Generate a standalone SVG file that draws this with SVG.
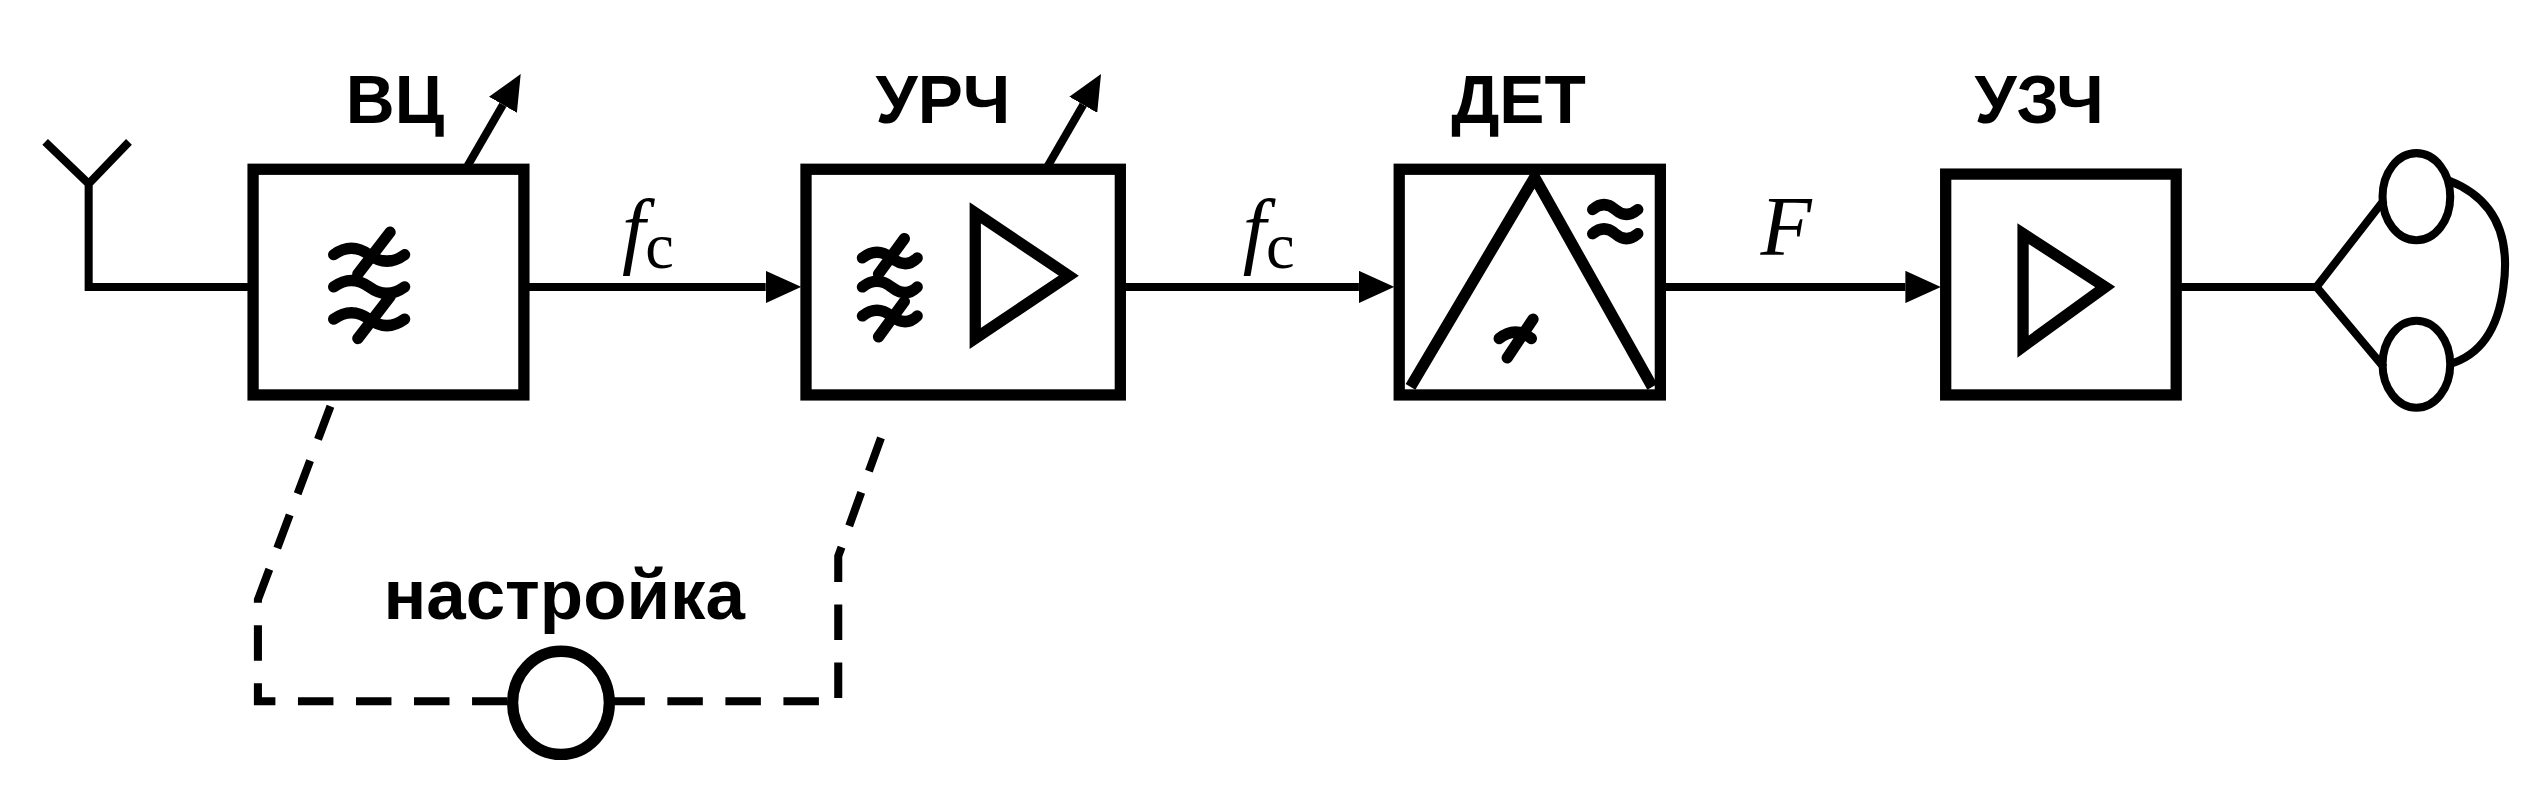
<svg xmlns="http://www.w3.org/2000/svg" width="2527" height="796" viewBox="0 0 2527 796">
<style>
.b{fill:none;stroke:#000;stroke-width:7}
.l{fill:none;stroke:#000;stroke-width:5}
.d{fill:none;stroke:#000;stroke-width:5;stroke-dasharray:22 14}
.t{font-family:"Liberation Sans Narrow","Liberation Sans",Arial,sans-serif;font-weight:bold;font-size:42px;text-anchor:middle}
.s{font-family:"Liberation Serif","Times New Roman",serif;font-style:italic;font-size:52px;text-anchor:middle}
.w{fill:none;stroke:#000;stroke-width:7;stroke-linecap:round}
</style>
<defs><marker id="a" markerWidth="4.4" markerHeight="4" refX="0" refY="2" orient="auto" markerUnits="strokeWidth"><path d="M0,0L4.4,2L0,4z"/></marker></defs>
<rect width="2527" height="796" fill="#fff"/>
<g transform="scale(1.612)">
<g id="antenna"><path class="l" d="M28,88L55,114L80,88M55,114V178H157"/></g>
<g id="vc"><rect class="b" x="157" y="105" width="168" height="140"/>
<text class="t" x="245" y="76">ВЦ</text>
<path class="w" d="M207,158q11,-8 22,0t22,0M207,178q11,-8 22,0t22,0M207,198q11,-8 22,0t22,0M222,170l20,-26M222,210l20,-26"/>
<path class="l" d="M290,103L312,65" marker-end="url(#a)"/></g>
<g id="urch"><rect class="b" x="500" y="105" width="195" height="140"/>
<text class="t" x="585" y="76">УРЧ</text>
<path class="w" d="M535,160q9,-7 18,0t16,0M535,178q9,-7 18,0t16,0M535,196q9,-7 18,0t16,0M545,170l16,-22M545,209l16,-22"/>
<path class="b" d="M605,132V210L663,171z"/>
<path class="l" d="M650,103L672,65" marker-end="url(#a)"/></g>
<g id="det"><rect class="b" x="868" y="105" width="162" height="140"/>
<text class="t" x="942" y="76">ДЕТ</text>
<path class="b" d="M875,240L952,110L1025,240"/>
<path class="w" d="M988,130q7,-6 14,0t14,0M988,145q7,-6 14,0t14,0M930,210q10,-8 20,0M935,222l16,-24"/></g>
<g id="uzch"><rect class="b" x="1207" y="108" width="143" height="137"/>
<text class="t" x="1265" y="76">УЗЧ</text>
<path class="b" d="M1255,145V215L1306,178z"/></g>
<g id="phones"><path class="l" d="M1437,178L1479,124M1437,178L1479,228M1519,112Q1560,128 1553,178Q1548,218 1519,226"/>
<ellipse class="l" cx="1499" cy="122" rx="21" ry="27"/><ellipse class="l" cx="1499" cy="226" rx="21" ry="27"/></g>
<g id="tune"><text class="t" x="350" y="384" style="font-size:44px">настройка</text>
<ellipse class="b" cx="348" cy="436" rx="30" ry="32"/></g>
<g id="connectors">
<path class="l" d="M325,178H475" marker-end="url(#a)"/>
<path class="l" d="M695,178H843" marker-end="url(#a)"/>
<path class="l" d="M1030,178H1182" marker-end="url(#a)"/>
<path class="l" d="M1350,178H1437"/>
<path class="d" d="M205,252L160,372V435H318"/>
<path class="d" d="M378,435H520V345L550,262"/>
</g>
<text class="s" x="402" y="160">f<tspan font-style="normal" font-size="40" dy="6">c</tspan></text>
<text class="s" x="787" y="160">f<tspan font-style="normal" font-size="40" dy="6">c</tspan></text>
<text class="s" x="1108" y="158">F</text>
</g>
</svg>
